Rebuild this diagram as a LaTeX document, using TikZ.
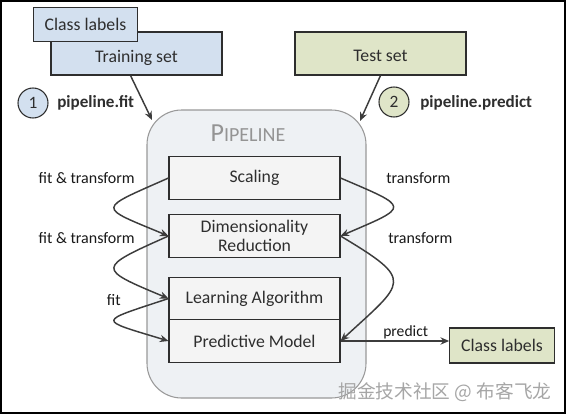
\documentclass[tikz,border=0pt]{standalone}
\usepackage{fontspec}
\setmainfont{Carlito}
\newfontfamily\cjkfont{Noto Sans CJK SC}
\usetikzlibrary{arrows.meta,calc}
\definecolor{boxblue}{HTML}{D3E0EF}
\definecolor{boxgreen}{HTML}{DFE5C8}
\definecolor{pipebg}{HTML}{EEF1F4}
\definecolor{stepbg}{HTML}{F4F4F4}
\definecolor{ink}{HTML}{2E2E2E}
\definecolor{linec}{HTML}{3C3C3C}
\begin{document}
\begin{tikzpicture}[x=0.75pt,y=-0.75pt,
  databox/.style={draw=ink, line width=0.8pt, minimum width=128.25pt, minimum height=32.25pt, inner sep=0pt, font=\fontsize{13.3}{15}\selectfont, text=ink},
  smallbox/.style={draw=ink, line width=0.8pt, minimum width=78.5pt, minimum height=25pt, inner sep=0pt, font=\fontsize{13.3}{15}\selectfont, text=ink},
  stepbox/.style={draw=ink, fill=stepbg, line width=0.8pt, minimum width=128.25pt, minimum height=31.75pt, inner sep=0pt, align=center, font=\fontsize{13.3}{14.3}\selectfont, text=ink},
  numcirc/.style={circle, draw=ink, line width=0.8pt, minimum size=22.5pt, inner sep=0pt, font=\fontsize{13}{15}\selectfont, text=ink},
  calllbl/.style={font=\bfseries\fontsize{12.8}{15}\selectfont, text=ink, anchor=west, inner sep=0pt},
  edgelbl/.style={font=\fontsize{12}{14}\selectfont, text=black!90, inner sep=0pt},
  flow/.style={draw=linec, line width=1.1pt, -{Stealth[length=6.5pt,width=5.5pt]}},
]
\useasboundingbox (0,0) rectangle (566,414);
\fill[white] (0,0) rectangle (566,414);

% pipeline container
\node[draw=black!40, fill=pipebg, line width=0.8pt, rounded corners=26pt,
      minimum width=164.25pt, minimum height=216pt] (pipe) at (256.5,254) {};
\node[text=black!42, inner sep=0pt] (pipetitle) at (248,133)
  {\fontsize{19.5}{20}\selectfont P\fontsize{15}{16}\selectfont IPELINE};

% input boxes
\node[databox, fill=boxblue, label={[text=ink, font=\fontsize{13.3}{15}\selectfont, yshift=-3pt]center:Training set}] (train) at (136.5,53.5) {};
\node[smallbox, fill=boxblue] (cltop) at (85.5,24.5) {Class labels};
\node[databox, fill=boxgreen, label={[text=ink, font=\fontsize{13.3}{15}\selectfont, yshift=-2pt]center:Test set}] (test) at (380.5,53.5) {};

% callouts
\node[numcirc, fill=boxblue] (c1) at (33,103) {1};
\node[calllbl] (fitlbl) at (57,103) {pipeline.fit};
\node[numcirc, fill=boxgreen] (c2) at (394,102) {2};
\node[calllbl] (predlbl) at (420,103) {pipeline.predict};

% steps
\node[stepbox] (scal) at (254.5,178) {Scaling};
\node[stepbox] (dim) at (254.5,236) {Dimensionality\\Reduction};
\node[stepbox] (learn) at (254.5,298.5) {Learning Algorithm};
\node[stepbox] (pred) at (254.5,341) {Predictive Model};

% output
\node[smallbox, fill=boxgreen, minimum height=26.25pt] (clout) at (502,345.5) {Class labels};

% entry arrows
\coordinate (pin1) at (152,120);
\coordinate (pin2) at (360,121);
\draw[flow] ($(train.south)+(-6,0)$) -- (pin1);
\draw[flow] (test.south) -- (pin2);

% fit curves (left)
\draw[flow] (scal.west) .. controls +(-72,32) and +(-72,-30) .. (dim.west);
\draw[flow] (dim.west) .. controls +(-72,32) and +(-72,-30) .. (learn.west);
\draw[flow] (learn.west) .. controls +(-72,24) and +(-72,-22) .. (pred.west);

% transform curves (right)
\draw[flow] (scal.east) .. controls +(70,30) and +(70,-30) .. (dim.east);
\draw[flow] (dim.east) .. controls +(75,45) and +(65,-60) .. (pred.east);

% predict
\draw[flow] (pred.east) -- node[pos=0.6, above=1pt, font=\fontsize{11.7}{13}\selectfont, text=black!90, inner sep=0pt] (predtxt) {predict} (pred.east -| clout.west);

% edge labels
\node[edgelbl, anchor=east] (l1) at (135,178) {fit \& transform};
\node[edgelbl, anchor=east] (l2) at (135,238) {fit \& transform};
\node[edgelbl, anchor=east] (l3) at (121,300) {fit};
\node[edgelbl, anchor=west] (r1) at (386,178) {transform};
\node[edgelbl, anchor=west] (r2) at (388,238) {transform};

% watermark
\node[text=black!35, font=\cjkfont\fontsize{14}{16}\selectfont, inner sep=0pt] (wm) at (445,392) {掘金技术社区 @ 布客飞龙};

% frame
\draw[line width=1.5pt] (1,1) rectangle (565,413);
\end{tikzpicture}
\end{document}
